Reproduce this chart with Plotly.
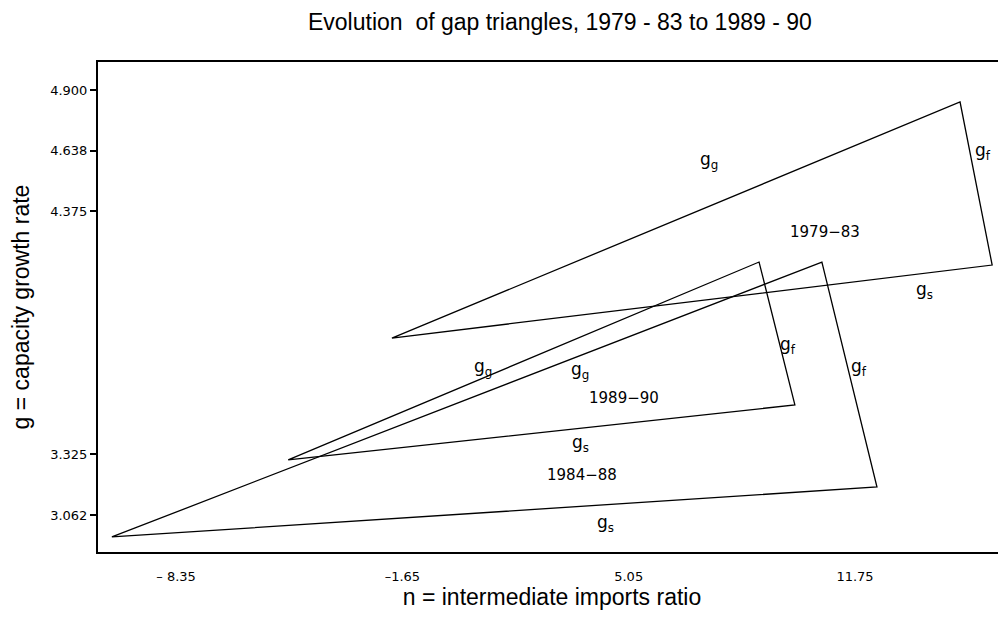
import plotly.graph_objects as go

# ---- data ----
periods = ["1979-83", "1989-90", "1984-88"]
# triangle vertices: (left, top, right)
tri_x = {
    "1979-83": [-1.96, 14.86, 15.81],
    "1989-90": [-5.03, 8.91, 9.97],
    "1984-88": [-10.25, 10.77, 12.40],
}
tri_y = {
    "1979-83": [3.827, 4.848, 4.143],
    "1989-90": [3.300, 4.156, 3.538],
    "1984-88": [2.967, 4.156, 3.183],
}
x_tick_vals = [-8.35, -1.65, 5.05, 11.75]
x_tick_text = ["\u2013 8.35", "\u20131.65", "5.05", "11.75"]
y_tick_vals = [4.900, 4.638, 4.375, 3.325, 3.062]
y_tick_text = ["4.900", "4.638", "4.375", "3.325", "3.062"]

# text labels: (text, x, y)
labels = [
    ("g<sub>g</sub>", 7.43, 4.597),
    ("g<sub>f</sub>", 15.54, 4.632),
    ("1979\u221283", 10.86, 4.286),
    ("g<sub>s</sub>", 13.82, 4.035),
    ("g<sub>g</sub>", 0.74, 3.702),
    ("g<sub>f</sub>", 9.77, 3.797),
    ("g<sub>g</sub>", 3.61, 3.689),
    ("1989\u221290", 4.91, 3.568),
    ("g<sub>s</sub>", 3.61, 3.373),
    ("1984\u221288", 3.67, 3.235),
    ("g<sub>f</sub>", 11.87, 3.698),
    ("g<sub>s</sub>", 4.35, 3.027),
]

fig = go.Figure()
for p in periods:
    xs = tri_x[p] + [tri_x[p][0]]
    ys = tri_y[p] + [tri_y[p][0]]
    fig.add_trace(go.Scatter(
        x=xs, y=ys, mode="lines", name=p,
        line=dict(color="black", width=1.3),
        showlegend=False, hoverinfo="skip",
    ))

for txt, lx, ly in labels:
    big = txt.startswith("g")
    fig.add_annotation(
        x=lx, y=ly, text=txt, showarrow=False,
        font=dict(family="DejaVu Sans", size=17 if big else 15, color="black"),
    )

title_font = dict(family="Liberation Sans", size=23, color="black")
tick_font = dict(family="DejaVu Sans", size=13, color="black")

# the page body adds an 8px offset, so the figure is sized to compensate
fig.update_layout(
    width=998, height=619,
    margin=dict(l=90, r=0, t=54, b=75),
    paper_bgcolor="white", plot_bgcolor="white",
    title=dict(
        text="Evolution  of gap triangles, 1979 - 83 to 1989 - 90",
        x=0.553, xanchor="center", y=0.978, yanchor="middle",
        font=title_font,
    ),
    xaxis=dict(
        range=[-10.66, 16.22],
        showgrid=False, zeroline=False,
        showline=True, linecolor="black", linewidth=2, mirror=True,
        tickvals=x_tick_vals, ticktext=x_tick_text,
        ticks="outside", ticklen=11, tickcolor="rgba(0,0,0,0)",
        tickfont=tick_font,
        title=dict(text="n = intermediate imports ratio",
                   font=title_font, standoff=6),
    ),
    yaxis=dict(
        range=[2.902, 5.021],
        showgrid=False, zeroline=False,
        showline=True, linecolor="black", linewidth=2, mirror=False,
        tickvals=y_tick_vals, ticktext=y_tick_text,
        ticks="outside", ticklen=6, tickcolor="black", tickwidth=1.5,
        tickfont=tick_font,
        title=dict(text="g = capacity growth rate",
                   font=title_font, standoff=14),
    ),
)

fig.write_html("out.html")
